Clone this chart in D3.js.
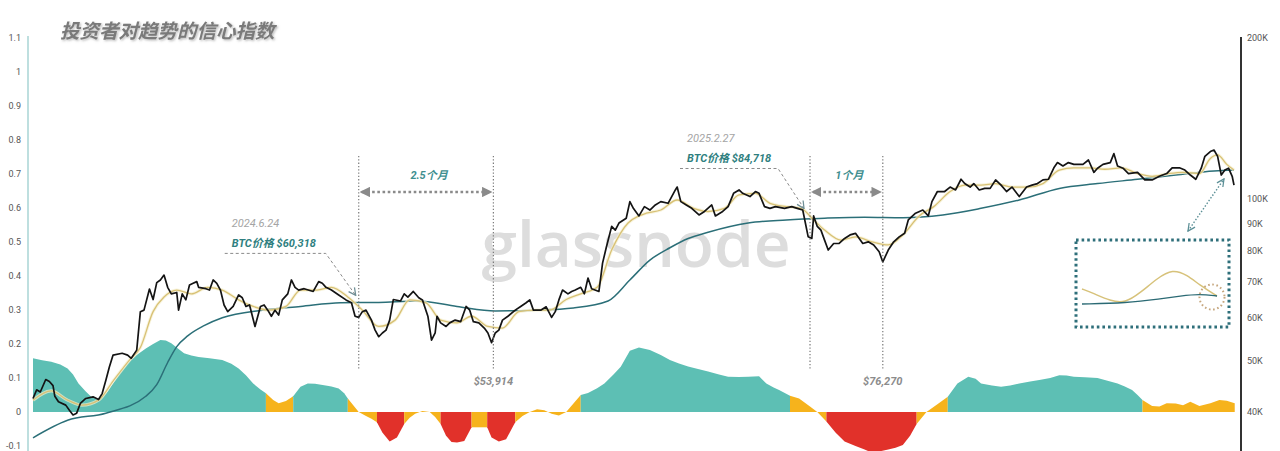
<!DOCTYPE html>
<html>
<head>
<meta charset="utf-8">
<script src="https://cdn.jsdelivr.net/npm/d3@7"></script>
<style>
  body { margin: 0; background: #fff; }
  svg { display: block; font-family: Roboto, "Noto Sans CJK SC", sans-serif; }
</style>
</head>
<body>
<svg id="chart" width="1280" height="451"></svg>
<script>
// day 0 = 2023-12-28
const START = new Date(2023, 11, 28);

// BTC price (K USD), [day, price]
const btc = [
  [0,42.4],[2,44.0],[4,43.6],[7,46.0],[9,45.6],[11,44.8],[12,42.8],[14,41.8],[18,41.2],[20,40.3],[22,39.5],[24,39.8],
  [26,41.5],[29,42.4],[33,42.7],[36,42.2],[38,43.3],[40,45.8],[42,48.6],[44,51.1],[49,51.5],[52,51.1],[54,50.4],[57,52.2],
  [59,61.6],[61,62.0],[64,67.9],[66,64.9],[68,69.8],[70,70.6],[72,72.1],[74,68.4],[76,66.5],[79,66.9],[80,62.0],[82,66.5],
  [84,64.8],[86,69.1],[88,69.6],[90,70.1],[91,68.4],[95,68.0],[97,67.6],[99,70.6],[101,69.6],[103,67.6],[105,63.4],[107,61.6],
  [110,63.0],[113,66.2],[115,65.4],[117,63.0],[119,63.4],[122,57.8],[125,63.0],[127,63.4],[129,62.0],[131,60.4],[133,62.0],
  [135,60.7],[137,64.8],[140,66.5],[142,70.6],[144,68.4],[146,67.6],[149,68.0],[154,67.2],[157,70.1],[159,69.6],[161,68.4],
  [164,67.6],[168,66.2],[172,64.8],[175,64.0],[177,60.4],[179,60.1],[181,61.6],[183,62.0],[186,59.4],[188,56.9],[190,55.3],
  [192,56.2],[194,56.9],[196,59.4],[198,64.9],[202,64.5],[204,66.5],[206,65.6],[209,67.2],[212,65.4],[214,64.8],[217,60.4],
  [219,54.5],[221,56.2],[222,60.4],[224,58.7],[227,57.8],[229,58.7],[232,59.4],[235,59.0],[238,63.0],[240,62.0],[242,59.0],
  [245,58.7],[248,57.4],[250,56.2],[252,53.9],[254,56.2],[256,56.9],[258,59.4],[261,60.4],[265,62.0],[268,63.0],[271,64.0],
  [273,64.8],[275,62.0],[279,62.0],[282,62.9],[285,60.1],[287,61.6],[289,64.8],[291,67.6],[294,66.5],[296,67.2],[298,67.6],
  [301,68.4],[303,66.5],[305,71.2],[307,68.0],[311,67.2],[313,75.9],[315,81.1],[318,88.9],[320,87.5],[322,90.2],[326,92.1],
  [328,98.9],[330,96.0],[333,93.0],[336,96.8],[339,95.4],[342,97.5],[345,98.9],[349,98.2],[351,101.1],[353,104.0],[354,105.3],
  [356,98.9],[359,97.5],[362,96.1],[366,93.4],[369,94.8],[373,97.5],[375,93.0],[379,94.8],[382,96.8],[385,102.5],[388,104.0],
  [390,102.5],[394,101.1],[397,103.3],[399,102.5],[402,96.8],[405,96.1],[408,96.8],[413,96.1],[417,96.8],[420,96.1],[423,95.4],
  [426,85.0],[428,84.4],[429,93.0],[431,88.9],[433,87.5],[435,83.8],[437,80.3],[440,82.6],[443,82.6],[446,84.4],[449,85.7],
  [452,86.3],[456,82.6],[459,83.2],[462,82.1],[465,79.7],[467,76.3],[470,80.3],[473,83.2],[476,85.0],[479,86.3],[481,91.4],
  [485,94.1],[489,95.4],[492,93.0],[494,98.9],[497,103.3],[501,103.3],[504,105.3],[507,104.0],[510,108.9],[512,106.9],
  [515,105.3],[517,106.9],[520,104.0],[523,104.7],[526,104.7],[529,108.6],[532,106.2],[535,103.3],[538,105.3],[542,101.1],
  [546,105.3],[549,106.2],[552,106.9],[555,108.6],[558,108.9],[561,114.4],[563,117.0],[566,115.3],[569,117.0],[572,116.1],
  [577,116.1],[580,118.3],[583,112.2],[585,114.2],[588,116.1],[592,117.0],[594,121.6],[596,115.3],[599,114.2],[602,111.6],
  [607,112.2],[611,108.6],[615,108.6],[619,110.3],[623,111.6],[626,114.4],[630,114.4],[633,113.3],[636,110.9],[639,108.9],
  [642,114.2],[644,120.2],[647,122.7],[649,123.5],[651,120.2],[653,110.9],[655,113.3],[657,114.2],[659,110.3],[660,106.2]
];

// short-term trend line (K USD)
const shortTrend = [
  [0,42.1],[10,43.8],[19,42.1],[27,41.2],[36,42.1],[44,45.7],[53,50.0],[59,52.8],[66,61.6],[72,65.6],[79,67.6],[87,66.5],
  [96,68.4],[104,67.6],[113,64.8],[121,63.0],[130,62.0],[139,63.0],[147,67.6],[156,67.6],[164,68.4],[173,65.6],[181,62.0],
  [190,57.8],[199,59.4],[207,64.8],[216,64.0],[224,59.4],[233,58.7],[241,60.4],[250,57.8],[258,57.4],[267,61.6],[276,62.0],
  [284,62.0],[293,64.9],[301,66.5],[310,68.4],[318,80.3],[327,90.2],[333,93.0],[337,94.1],[345,95.4],[354,99.6],[363,96.1],
  [371,94.8],[380,96.1],[388,101.8],[397,102.5],[405,98.2],[414,96.8],[422,96.1],[429,91.4],[435,87.5],[444,83.8],[452,85.0],
  [461,83.2],[470,82.1],[478,85.7],[487,93.0],[495,96.8],[504,103.3],[512,106.2],[521,106.2],[529,106.9],[538,105.3],
  [547,105.3],[555,106.9],[564,113.3],[572,114.4],[581,114.4],[589,113.7],[598,114.4],[607,111.6],[615,110.3],[624,111.6],
  [632,112.2],[641,111.6],[647,119.1],[651,120.9],[656,116.1],[660,113.3]
];

// long-term trend line (K USD)
const longTrend = [
  [0,35.8],[19,38.6],[40,39.8],[62,42.8],[68,45.0],[74,49.5],[79,53.0],[85,55.5],[94,58.0],[104,60.0],[126,62.0],[147,63.0],
  [169,64.0],[190,64.1],[211,64.5],[233,63.0],[254,61.8],[276,62.0],[297,62.6],[316,64.5],[328,70.6],[339,76.9],[350,81.1],
  [360,84.4],[371,86.7],[393,90.2],[414,91.4],[435,92.1],[457,92.5],[478,92.3],[500,93.4],[521,96.1],[542,99.6],[564,104.7],
  [585,106.9],[607,108.9],[628,110.9],[649,112.9],[660,113.3]
];

// confidence index (left axis)
const confidence = [
  [0,0.158],[5,0.152],[10,0.148],[15,0.14],[19,0.128],[22,0.11],[25,0.084],[29,0.06],[32,0.045],[35,0.038],[38,0.042],
  [41,0.06],[44,0.084],[48,0.115],[53,0.148],[57,0.168],[62,0.187],[66,0.2],[70,0.212],[73,0.21],[76,0.202],[80,0.185],
  [83,0.173],[87,0.166],[91,0.162],[97,0.158],[104,0.153],[109,0.142],[113,0.128],[117,0.108],[121,0.084],[125,0.066],
  [128,0.055],[132,0.035],[135,0.026],[139,0.032],[143,0.046],[147,0.074],[151,0.084],[155,0.083],[160,0.079],[164,0.075],
  [168,0.069],[171,0.055],[173,0.04],[176,0.02],[179,0],[183,-0.012],[186,-0.02],[189,-0.03],[192,-0.06],[196,-0.087],
  [200,-0.075],[204,-0.035],[207,-0.017],[210,-0.005],[214,0.003],[218,0],[221,-0.015],[224,-0.035],[227,-0.07],[230,-0.088],
  [233,-0.09],[237,-0.085],[241,-0.045],[245,-0.045],[249.6,-0.045],[252,-0.075],[256,-0.087],[260,-0.08],[265,-0.03],
  [269,-0.012],[273,0],[277,0.008],[281,0.005],[285,-0.005],[289,-0.01],[293,0],[297,0.025],[301,0.05],[305,0.056],[310,0.07],
  [314,0.084],[319,0.11],[323,0.133],[328,0.18],[333,0.19],[339,0.182],[345,0.168],[350,0.153],[355,0.143],[360,0.134],
  [366,0.126],[371,0.119],[377,0.11],[382,0.104],[388,0.103],[393,0.104],[399,0.105],[403,0.084],[407,0.072],[410,0.065],
  [416,0.048],[421,0.04],[427,0.016],[431,0],[436,-0.028],[441,-0.06],[446,-0.087],[452,-0.1],[457,-0.11],[461,-0.12],
  [466,-0.115],[470,-0.11],[474,-0.105],[478,-0.097],[482,-0.07],[485.6,-0.035],[491,0],[497,0.023],[502.7,0.045],[508,0.084],
  [514,0.104],[518,0.098],[521,0.084],[527,0.078],[532,0.074],[537,0.078],[542,0.084],[548,0.09],[553,0.094],[559,0.1],
  [564,0.108],[568,0.107],[572,0.104],[578,0.102],[585,0.1],[590,0.093],[596,0.084],[600,0.075],[604,0.065],[607,0.05],
  [609.7,0.035],[615,0.018],[619,0.016],[623,0.026],[628,0.025],[632,0.02],[636,0.03],[641,0.018],[647,0.026],[652,0.035],
  [656,0.033],[660.4,0.026]
];

// colour regimes of the confidence index: [from day, to day, state]
const regimes = [
  [0,128,"up"],[128,143,"flat"],[143,173,"up"],[173,189,"flat"],[189,204,"down"],[204,224,"flat"],[224,241,"down"],
  [241,249.6,"flat"],[249.6,265,"down"],[265,301,"flat"],[301,416,"up"],[416,436,"flat"],[436,485.6,"down"],
  [485.6,502.7,"flat"],[502.7,609.7,"up"],[609.7,660.4,"flat"]
];

const leftTicks = [1.1, 1, 0.9, 0.8, 0.7, 0.6, 0.5, 0.4, 0.3, 0.2, 0.1, 0, -0.1];
const rightTicks = [200000, 100000, 90000, 80000, 70000, 60000, 50000, 40000];

// marked dates: [day, label]
const notes = [[179, "2024.6.24", "BTC价格 $60,318"], [427, "2025.2.27", "BTC价格 $84,718"]];
const lows = [[253, "$53,914"], [467, "$76,270"]];
const spans = [[179, 253, "2.5个月"], [427, 467, "1个月"]];

// zoomed-in crossover (inset), [t, level]
const insetShort = [[0,41],[0.08,37],[0.21,29],[0.32,27],[0.43,37],[0.56,52],[0.67,61],[0.78,55],[0.87,45],[1,34]];
const insetLong = [[0,26],[0.33,27],[0.58,31],[0.73,34],[0.87,36],[1,34]];

const COLORS = {up: "#5dbfb4", flat: "#f6b31c", down: "#e1312a"};

const day = d => new Date(START.getTime() + d * 864e5);

const svg = d3.select("#chart");

const x = d3.scaleTime().domain([START, day(660)]).range([33, 1234]);
const yL = d3.scaleLinear().domain([-0.1, 1.1]).range([446, 38]);
const yR = d3.scaleLog().domain([40, 200]).range([412, 38]);

let defs = svg.append("defs");
defs.append("filter").attr("id", "shadow")
  .append("feDropShadow")
  .attr("dx", 1.2).attr("dy", 1.2).attr("stdDeviation", 1)
  .attr("flood-color", "#999").attr("flood-opacity", 0.7);

defs.append("marker")
  .attr("id", "tri")
  .attr("viewBox", "0 0 10 10")
  .attr("refX", 8).attr("refY", 5)
  .attr("markerWidth", 4).attr("markerHeight", 4)
  .attr("markerUnits", "strokeWidth")
  .attr("orient", "auto-start-reverse")
  .append("path").attr("d", "M0,0 L10,5 L0,10 z").attr("fill", "#8a8a8a");

defs.append("marker")
  .attr("id", "vee")
  .attr("viewBox", "0 0 10 10")
  .attr("refX", 9).attr("refY", 5)
  .attr("markerWidth", 9).attr("markerHeight", 9)
  .attr("markerUnits", "userSpaceOnUse")
  .attr("orient", "auto-start-reverse")
  .append("path").attr("d", "M1,1 L9,5 L1,9").attr("fill", "none")
  .attr("stroke", "#5b8f96").attr("stroke-width", 1.4);

defs.append("marker")
  .attr("id", "veeGrey")
  .attr("viewBox", "0 0 10 10")
  .attr("refX", 9).attr("refY", 5)
  .attr("markerWidth", 9).attr("markerHeight", 9)
  .attr("markerUnits", "userSpaceOnUse")
  .attr("orient", "auto")
  .append("path").attr("d", "M1,1 L9,5 L1,9").attr("fill", "none")
  .attr("stroke", "#6f8f96").attr("stroke-width", 1.4);

// watermark
svg.append("text")
  .attr("x", 636).attr("y", 267)
  .attr("text-anchor", "middle")
  .attr("font-family", "'Open Sans', sans-serif")
  .attr("font-size", 64)
  .attr("font-weight", 600)
  .attr("fill", "#dddddd")
  .text("glassnode");

// title
svg.append("text")
  .attr("x", 60).attr("y", 38)
  .attr("font-family", "'Noto Sans CJK SC', sans-serif")
  .attr("font-size", 19.5)
  .attr("font-weight", 700)
  .attr("font-style", "italic")
  .attr("fill", "#7a7a7a")
  .attr("filter", "url(#shadow)")
  .text("投资者对趋势的信心指数");

// confidence areas
let area = d3.area()
  .x(d => x(day(d[0])))
  .y0(yL(0))
  .y1(d => yL(d[1]));

svg.append("g")
  .selectAll("path")
  .data(regimes)
  .join("path")
  .attr("fill", r => COLORS[r[2]])
  .attr("d", r => area(confidence.filter(d => d[0] >= r[0] && d[0] <= r[1])));

// axes
let leftAxis = svg.append("g")
  .attr("transform", "translate(28,0)")
  .call(d3.axisLeft(yL).tickValues(leftTicks).tickSize(0).tickPadding(7).tickFormat(d => String(+d.toFixed(1))));
leftAxis.select(".domain").remove();
leftAxis.selectAll("text").attr("font-size", 9).attr("fill", "#555").attr("font-family", "Roboto, sans-serif");
svg.append("line")
  .attr("x1", 28).attr("x2", 28).attr("y1", 36).attr("y2", 451)
  .attr("stroke", "#a9d4d4").attr("stroke-width", 1.5);

let rightAxis = svg.append("g")
  .attr("transform", "translate(1241,0)")
  .call(d3.axisRight(yR).tickValues(rightTicks.map(v => v / 1000)).tickSize(0).tickPadding(6).tickFormat(d => d + "K"));
rightAxis.select(".domain").remove();
rightAxis.selectAll("text").attr("font-size", 9).attr("fill", "#555").attr("font-family", "Roboto, sans-serif");
svg.append("line")
  .attr("x1", 1241).attr("x2", 1241).attr("y1", 37).attr("y2", 451)
  .attr("stroke", "#333").attr("stroke-width", 2);

// price lines
let line = d3.line().x(d => x(day(d[0]))).y(d => yR(d[1]));
let smooth = d3.line().x(d => x(day(d[0]))).y(d => yR(d[1])).curve(d3.curveMonotoneX);

svg.append("path")
  .attr("d", smooth(longTrend))
  .attr("fill", "none").attr("stroke", "#2b6f78").attr("stroke-width", 1.5);

svg.append("path")
  .attr("d", smooth(shortTrend))
  .attr("fill", "none").attr("stroke", "#f5efcf").attr("stroke-width", 3.2).attr("opacity", 0.7);
svg.append("path")
  .attr("d", smooth(shortTrend))
  .attr("fill", "none").attr("stroke", "#d8c175").attr("stroke-width", 1.3);

svg.append("path")
  .attr("d", line(btc))
  .attr("fill", "none").attr("stroke", "#141414").attr("stroke-width", 1.7)
  .attr("stroke-linejoin", "round");

// vertical markers
let marks = svg.append("g");
spans.forEach(s => {
  [s[0], s[1]].forEach(dd => {
    marks.append("line")
      .attr("x1", x(day(dd))).attr("x2", x(day(dd)))
      .attr("y1", 156).attr("y2", 370)
      .attr("stroke", "#7a7a7a").attr("stroke-width", 1.2)
      .attr("stroke-dasharray", "1.3,2");
  });
  marks.append("line")
    .attr("x1", x(day(s[0])) + 3).attr("x2", x(day(s[1])) - 3)
    .attr("y1", 192).attr("y2", 192)
    .attr("stroke", "#8a8a8a").attr("stroke-width", 2.6)
    .attr("stroke-dasharray", "2.6,2.6")
    .attr("marker-start", "url(#tri)")
    .attr("marker-end", "url(#tri)");
  marks.append("text")
    .attr("x", (x(day(s[0])) + x(day(s[1]))) / 2 + 3).attr("y", 179)
    .attr("text-anchor", "middle")
    .attr("font-size", 11).attr("font-weight", 700).attr("font-style", "italic")
    .attr("fill", "#3f8f90")
    .text(s[2]);
});

lows.forEach(l => {
  marks.append("text")
    .attr("x", x(day(l[0]))).attr("y", 385)
    .attr("text-anchor", "middle")
    .attr("font-size", 11).attr("font-weight", 700).attr("font-style", "italic")
    .attr("fill", "#8c8c8c")
    .text(l[1]);
});

// dated notes
notes.forEach((n, i) => {
  let tx = x(day(n[0])) - (i == 0 ? 3 : 6),
      ty = yR(btc.find(d => d[0] >= n[0])[1]) - (i == 0 ? 22 : 30),
      lx = tx - (i == 0 ? 131 : 124),
      ly = ty - (i == 0 ? 42 : 40),
      bend = tx - (i == 0 ? 30 : 26);

  let g = svg.append("g");
  g.append("text")
    .attr("x", lx + 7).attr("y", ly - 26)
    .attr("font-size", 11).attr("font-style", "italic")
    .attr("fill", "#a5a5a5")
    .text(n[1]);
  g.append("text")
    .attr("x", lx + 7).attr("y", ly - 6)
    .attr("font-size", 11).attr("font-weight", 700).attr("font-style", "italic")
    .attr("fill", "#2f7f80")
    .text(n[2]);
  g.append("path")
    .attr("d", "M" + lx + "," + ly + "L" + bend + "," + ly + "L" + tx + "," + ty)
    .attr("fill", "none")
    .attr("stroke", "#8a8a8a").attr("stroke-width", 1)
    .attr("stroke-dasharray", "3,2.5")
    .attr("marker-end", "url(#veeGrey)");
});

// inset
let inset = svg.append("g");
let ix = d3.scaleLinear().domain([0, 1]).range([1082, 1217]),
    iy = d3.scaleLinear().domain([0, 90]).range([330, 240]);
let iline = d3.line().x(d => ix(d[0])).y(d => iy(d[1])).curve(d3.curveBasis);

inset.append("rect")
  .attr("x", 1076).attr("y", 240).attr("width", 153).attr("height", 87)
  .attr("fill", "none")
  .attr("stroke", "#2e6f7a").attr("stroke-width", 3)
  .attr("stroke-dasharray", "2.6,3");
inset.append("path")
  .attr("d", iline(insetShort))
  .attr("fill", "none").attr("stroke", "#d7c27a").attr("stroke-width", 1.5);
inset.append("path")
  .attr("d", iline(insetLong))
  .attr("fill", "none").attr("stroke", "#2b6a74").attr("stroke-width", 1.3);
inset.append("circle")
  .attr("cx", 1212).attr("cy", 297).attr("r", 12.5)
  .attr("fill", "none")
  .attr("stroke", "#c5a57c").attr("stroke-width", 2)
  .attr("stroke-dasharray", "1.6,2.6");

inset.append("line")
  .attr("x1", 1188).attr("y1", 231).attr("x2", 1224).attr("y2", 179)
  .attr("stroke", "#5b8f96").attr("stroke-width", 1.4)
  .attr("stroke-dasharray", "1.5,1.8")
  .attr("marker-start", "url(#vee)")
  .attr("marker-end", "url(#vee)");
</script>
</body>
</html>
